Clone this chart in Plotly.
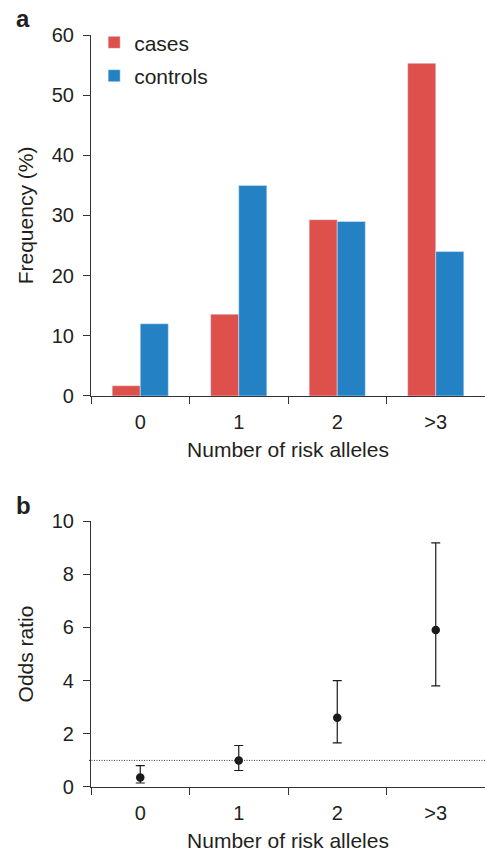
import plotly.graph_objects as go

categories = ["0", "1", "2", ">3"]
cases = [1.7, 13.6, 29.3, 55.3]
controls = [12.0, 35.0, 29.0, 24.0]

odds_ratio = [0.36, 1.0, 2.6, 5.9]
or_upper = [0.80, 1.56, 4.0, 9.18]
or_lower = [0.15, 0.62, 1.66, 3.80]

err_plus = [u - v for u, v in zip(or_upper, odds_ratio)]
err_minus = [v - l for v, l in zip(odds_ratio, or_lower)]

RED = "#DE504C"
BLUE = "#2481C3"
AX = "#333333"
TXT = "#231F20"
FONT = "Liberation Sans, Arial, sans-serif"

fig = go.Figure()
fig.add_trace(go.Bar(x=categories, y=cases, name="cases", marker_color=RED,
                     xaxis="x", yaxis="y", legendgroup="a"))
fig.add_trace(go.Bar(x=categories, y=controls, name="controls", marker_color=BLUE,
                     xaxis="x", yaxis="y", legendgroup="b"))
fig.add_trace(go.Scatter(x=categories, y=odds_ratio, mode="markers",
                         marker=dict(color="#1a1a1a", size=8.5),
                         error_y=dict(type="data", array=err_plus, arrayminus=err_minus,
                                      color="#1a1a1a", thickness=1.2, width=4.5),
                         xaxis="x2", yaxis="y2", showlegend=False))

axis_common = dict(showline=True, linecolor=AX, linewidth=1.2, ticks="outside",
                   tickcolor=AX, ticklen=7, tickwidth=1.2, showgrid=False, zeroline=False,
                   automargin=False,
                   tickfont=dict(size=20, color=TXT, family=FONT))
x_common = dict(axis_common, ticklabelstandoff=8)
y_common = dict(axis_common, ticklabelstandoff=5)

fig.update_layout(
    width=485, height=853,
    margin=dict(l=91, r=0, t=35, b=66),
    paper_bgcolor="white", plot_bgcolor="white",
    font=dict(family=FONT, color=TXT, size=20),
    barmode="group", bargap=0.43, bargroupgap=0,
    legend=dict(x=0.008, y=1.017, xanchor="left", yanchor="top",
                font=dict(size=21, color=TXT), bgcolor="rgba(0,0,0,0)",
                tracegroupgap=3),
    xaxis=dict(domain=[0, 1], anchor="y", type="category", range=[-0.5, 3.5],
               tickson="boundaries",
               title=dict(text="Number of risk alleles", font=dict(size=21), standoff=10),
               **x_common),
    yaxis=dict(domain=[0.52, 1], anchor="x", range=[0, 60], tickvals=[0, 10, 20, 30, 40, 50, 60],
               title=dict(text="Frequency (%)", font=dict(size=21), standoff=12),
               **y_common),
    xaxis2=dict(domain=[0, 1], anchor="y2", type="category", range=[-0.5, 3.5],
                tickson="boundaries",
                title=dict(text="Number of risk alleles", font=dict(size=21), standoff=10),
                **x_common),
    yaxis2=dict(domain=[0, 0.3537], anchor="x2", range=[0, 10], tickvals=[0, 2, 4, 6, 8, 10],
                title=dict(text="Odds ratio", font=dict(size=21), standoff=12),
                **y_common),
)

fig.add_shape(type="line", xref="x2 domain", yref="y2", x0=-0.005, x1=1, y0=1, y1=1,
              line=dict(color=AX, width=1, dash="1px,1.5px"))

fig.add_annotation(text="<b>a</b>", xref="paper", yref="paper", x=-0.195, y=1.0226,
                   xanchor="left", yanchor="middle", showarrow=False,
                   font=dict(size=24, color=TXT, family=FONT))
fig.add_annotation(text="<b>b</b>", xref="paper", yref="paper", x=-0.195, y=0.375,
                   xanchor="left", yanchor="middle", showarrow=False,
                   font=dict(size=24, color=TXT, family=FONT))

fig.write_html("out.html", config={"displayModeBar": False},
               post_script="document.body.style.margin='0';document.body.style.overflow='hidden';")
